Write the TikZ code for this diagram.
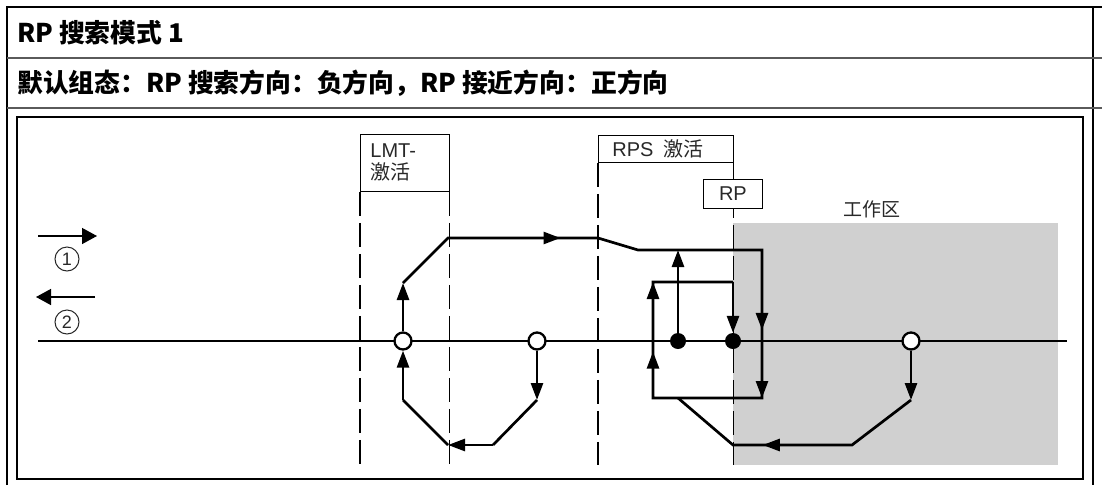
\documentclass[tikz,border=0pt]{standalone}
\usepackage{fontspec}
\setmainfont{Liberation Sans}
\newfontfamily\cjk{Noto Sans CJK SC}
\usepackage{tikz}
\usetikzlibrary{arrows.meta, positioning, calc, decorations.markings}
\definecolor{zonegray}{RGB}{208,208,208}
\definecolor{rulegray}{RGB}{90,90,90}
\definecolor{inkgray}{RGB}{40,40,40}

\begin{document}
\begin{tikzpicture}[
    x=1pt, y=-1pt,
    >={Triangle[length=17pt, width=12pt]},
    trace/.style={line width=2.7pt},
    tipat/.style={postaction={decorate}, decoration={markings, mark=at position #1 with {\arrow{>}}}},
    guide/.style={line width=1.2pt, dash pattern=on 24pt off 7pt},
    tagbox/.style={draw, line width=0.8pt, fill=white, text=inkgray, font=\fontsize{20}{22}\selectfont, inner sep=0pt, anchor=north west},
    ring/.style={circle, draw, line width=2.3pt, fill=white, minimum size=17pt, inner sep=0pt},
    blob/.style={circle, fill=black, minimum size=16pt, inner sep=0pt},
    num/.style={circle, draw=inkgray, line width=1pt, minimum size=24pt, inner sep=0pt, text=inkgray, font=\fontsize{18}{18}\selectfont},
    rule/.style={line width=2pt, rulegray},
    head/.style={anchor=west, inner sep=0pt, font=\cjk\bfseries\fontsize{25.8}{28}\selectfont},
]
    \useasboundingbox (0,0) rectangle (1102,485);

    % table frame
    \draw[line width=1.5pt] (7,485) -- (7,7) -- (1102,7);
    \draw[line width=1.2pt] (1093,7) -- (1093,485);
    \draw[rule] (7,58) -- (1102,58);
    \draw[rule] (7,108) -- (1102,108);
    \draw[line width=1.5pt] (17,117) rectangle (1083,479);

    \node[head] (title) at (17,33) {RP 搜索模式 1};
    \node[head] (conf) at (17,83) {默认组态：RP 搜索方向：负方向，RP 接近方向：正方向};

    % legend
    \coordinate (l1) at (38,236);
    \coordinate (l2) at (95,297);
    \draw[line width=1.4pt, -{Triangle[length=15pt, width=16pt]}] (l1) -- ++(59,0);
    \node[num] (n1) at (67,259) {1};
    \draw[line width=1.4pt, -{Triangle[length=15pt, width=16pt]}] (l2) -- ++(-59,0);
    \node[num] (n2) at (67,322) {2};

    % work area
    \fill[zonegray] (733,223) rectangle (1058,465);
    \node[text=inkgray, font=\cjk\fontsize{19}{22}\selectfont] (zone) at (872,209) {工作区};

    \node[tagbox, minimum height=57pt, inner xsep=10pt, text width=69pt, align=left] (lmt) at (360,134) {LMT-\\{\cjk 激活}};
    \node[tagbox, minimum height=27pt, inner xsep=14pt, text width=107pt, align=left] (rps) at (598,135) {RPS\hspace{10pt}{\cjk 激活}};

    \coordinate (floor) at (0,465);
    \draw[guide] (lmt.south west) -- (lmt.south west |- floor);
    \draw[guide] (lmt.south east) -- (lmt.south east |- floor);
    \draw[guide] (rps.south west) -- (rps.south west |- floor);
    \draw[guide] (rps.south east) -- (rps.south east |- floor);

    \node[tagbox, minimum width=59pt, minimum height=29pt] (rp) at (703,179) {RP};

    \draw[trace] (38,341) -- (1067,341);

    \coordinate (p1) at (403,283);
    \coordinate (p2) at (448,238);
    \coordinate (p3) at (598,238);
    \coordinate (p4) at (638,250);
    \coordinate (p5) at (762,250);
    \coordinate (p6) at (762,398);
    \coordinate (p7) at (653,398);
    \coordinate (p8) at (653,282);
    \coordinate (p9) at (733,282);
    \coordinate (q1) at (537,400);
    \coordinate (q2) at (493,445);
    \coordinate (q3) at (448,445);
    \coordinate (q4) at (403,400);
    \coordinate (r1) at (911,400);
    \coordinate (r2) at (852,445);
    \coordinate (r3) at (733,445);
    \coordinate (r4) at (678,398);
    \coordinate (r5) at (678,250);

    \node[ring] (a1) at (403,341) {};
    \node[ring] (a2) at (537,341) {};
    \node[ring] (a3) at (911,341) {};
    \node[blob] (d1) at (678,341) {};
    \node[blob] (d2) at (733,341) {};

    \draw[trace] (p1) -- (p2) -- (p3) -- (p4) -- (p5) -- (p6) -- (p7) -- (p8) -- (p9);
    \draw[trace, ->] (a1) -- (p1);
    \draw[trace, tipat=0.75] (p2) -- (p3);
    \draw[trace, tipat=0.54, ->] (p5) -- (p6);
    \draw[trace, tipat=0.4, ->] (p7) -- (p8);
    \draw[trace, ->] (p9) -- (d2);
    \draw[trace, ->] (d1) -- (r5);

    \draw[trace, ->] (a2) -- (q1);
    \draw[trace] (q1) -- (q2);
    \draw[trace, ->] (q2) -- (q3);
    \draw[trace] (q3) -- (q4);
    \draw[trace, ->] (q4) -- (a1);

    \draw[trace, ->] (a3) -- (r1);
    \draw[trace] (r1) -- (r2) -- (r3) -- (r4);
    \draw[trace, tipat=0.75] (r2) -- (r3);
\end{tikzpicture}
\end{document}
